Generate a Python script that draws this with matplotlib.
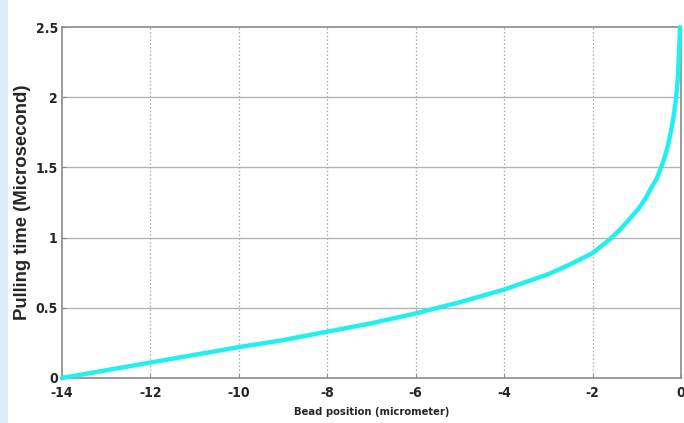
import matplotlib
matplotlib.use("Agg")
import matplotlib.pyplot as plt
from matplotlib.patches import Rectangle
from matplotlib import font_manager

# Bead position (micrometer) and pulling time (microsecond)
bead_position = [-14.0, -13.0, -12.0, -11.0, -10.0, -9.0, -8.0, -7.0, -6.0, -5.0,
                 -4.0, -3.0, -2.5, -2.0, -1.8, -1.6, -1.4, -1.2, -0.95, -0.8,
                 -0.7, -0.55, -0.45, -0.38, -0.3, -0.25, -0.2, -0.15, -0.11,
                 -0.08, -0.06, -0.04, -0.02]
pulling_time = [0.0, 0.055, 0.11, 0.165, 0.22, 0.27, 0.33, 0.39, 0.46, 0.54,
                0.63, 0.74, 0.81, 0.89, 0.94, 0.99, 1.05, 1.12, 1.21, 1.28,
                1.34, 1.42, 1.50, 1.56, 1.65, 1.72, 1.80, 1.90, 2.0,
                2.1, 2.2, 2.35, 2.5]

x_ticks = [-14, -12, -10, -8, -6, -4, -2, 0]
y_ticks = [0, 0.5, 1, 1.5, 2, 2.5]
y_tick_labels = ["0", "0.5", "1", "1.5", "2", "2.5"]

names = {f.name for f in font_manager.fontManager.ttflist}
family = ["Liberation Sans", "DejaVu Sans"]
family = [f for f in family if f in names] or ["DejaVu Sans"]
plt.rcParams["font.family"] = family

# a condensed bold face for the axis texts, if one is installed
condensed = None
for f in font_manager.fontManager.ttflist:
    if ("Narrow" in f.name or f.stretch in ("condensed", "semi-condensed")) \
            and f.weight in ("bold", 700) and f.style == "normal":
        condensed = f.fname
        break

fig = plt.figure(figsize=(6.84, 4.23), dpi=100)
fig.patch.set_facecolor("white")
# light page strip along the left edge
fig.add_artist(Rectangle((0, 0), 0.011, 1, transform=fig.transFigure,
                         facecolor="#dcebf8", edgecolor="none", zorder=0))

ax = fig.add_axes([0.0906, 0.1064, 0.9050, 0.8296])
ax.plot(bead_position, pulling_time, color="#22f0ee", lw=3.2,
        solid_capstyle="round", solid_joinstyle="round", zorder=3, clip_on=False)

ax.set_xlim(-14, 0)
ax.set_ylim(0, 2.5)
ax.set_xticks(x_ticks)
ax.set_xticklabels([str(t) for t in x_ticks])
ax.set_yticks(y_ticks)
ax.set_yticklabels(y_tick_labels)

for y in y_ticks[1:-1]:
    ax.axhline(y, color="#b4b4b4", lw=1.0, zorder=1)
for x in x_ticks[1:-1]:
    ax.axvline(x, color="#a8a8a8", lw=0.9, ls=(0, (1.2, 1.8)), zorder=1)

for s in ax.spines.values():
    s.set_color("#8a8a8a")
    s.set_linewidth(1.2)

ax.tick_params(direction="in", length=3, width=0.8, color="#8a8a8a",
               labelsize=9.5, top=False, right=False)
ax.tick_params(axis="x", pad=6)
ax.tick_params(axis="y", pad=3)

def face(size):
    if condensed:
        return font_manager.FontProperties(fname=condensed, size=size)
    return font_manager.FontProperties(family=family, weight="bold", size=size)

for lab in ax.get_xticklabels() + ax.get_yticklabels():
    lab.set_fontproperties(face(10 if condensed else 9.5))
    lab.set_color("#262626")

ax.set_xlabel("Bead position (micrometer)", fontproperties=face(8 if condensed else 8),
              color="#262626", labelpad=5)
ax.set_ylabel("Pulling time (Microsecond)", family=family, fontweight="bold",
              fontsize=13.3, color="#262626", labelpad=3)

fig.savefig("out.png", dpi=100, facecolor="white")
